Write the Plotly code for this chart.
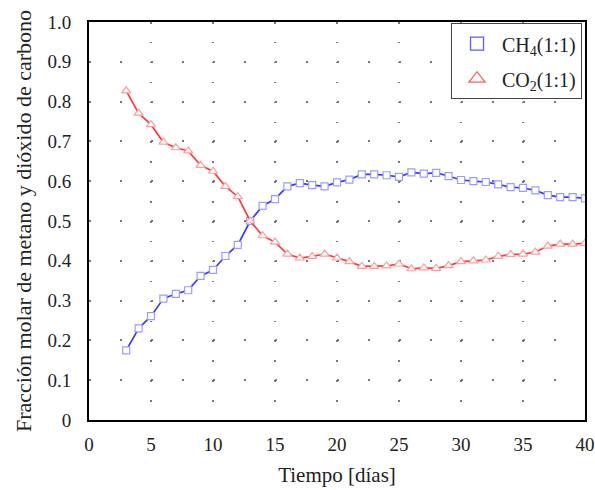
import plotly.graph_objects as go

days = list(range(3, 41))
ch4 = [0.175, 0.230, 0.261, 0.305, 0.317, 0.326, 0.362, 0.377, 0.412, 0.440,
       0.500, 0.538, 0.555, 0.587, 0.595, 0.590, 0.587, 0.597, 0.604, 0.617,
       0.617, 0.615, 0.611, 0.622, 0.619, 0.621, 0.613, 0.603, 0.600, 0.598,
       0.592, 0.585, 0.583, 0.577, 0.565, 0.560, 0.560, 0.557]
co2 = [0.827, 0.771, 0.742, 0.698, 0.684, 0.676, 0.640, 0.625, 0.587, 0.561,
       0.500, 0.463, 0.447, 0.417, 0.407, 0.411, 0.417, 0.407, 0.398, 0.386,
       0.386, 0.387, 0.392, 0.380, 0.382, 0.381, 0.388, 0.398, 0.400, 0.402,
       0.411, 0.416, 0.417, 0.422, 0.437, 0.442, 0.442, 0.444]
x_ticks = [0, 5, 10, 15, 20, 25, 30, 35, 40]
y_ticks = [0, 0.1, 0.2, 0.3, 0.4, 0.5, 0.6, 0.7, 0.8, 0.9, 1.0]
y_ticktext = ["0", "0.1", "0.2", "0.3", "0.4", "0.5", "0.6", "0.7", "0.8", "0.9", "1.0"]
names = ["CH<sub>4</sub>(1:1)", "CO<sub>2</sub>(1:1)"]

FONT = "Liberation Serif, DejaVu Serif, Times New Roman, serif"
TXT = "#222222"
W, H = 595, 490
ML, MR, MT, MB = 89, 10, 22, 70
PW, PH = W - ML - MR, H - MT - MB

fig = go.Figure()
fig.add_trace(go.Scatter(
    x=days, y=ch4, mode="lines+markers", showlegend=False,
    line=dict(color="#3a3aff", width=1.7),
    marker=dict(symbol="square", size=7, color="white",
                line=dict(color="#9c9cff", width=1.2)),
))
fig.add_trace(go.Scatter(
    x=days, y=co2, mode="lines+markers", showlegend=False,
    line=dict(color="#ff3a3a", width=1.7),
    marker=dict(symbol="triangle-up", size=8, color="white",
                line=dict(color="#ff9c9c", width=1.2)),
))
# legend proxies (marker only)
fig.add_trace(go.Scatter(
    x=[None], y=[None], mode="markers", name=names[0], legendgroup="a",
    marker=dict(symbol="square-open", size=13, color="#5c5cff",
                line=dict(width=1.3)),
))
fig.add_trace(go.Scatter(
    x=[None], y=[None], mode="markers", name=names[1], legendgroup="b",
    marker=dict(symbol="triangle-up-open", size=14, color="#ff5c5c",
                line=dict(width=1.3)),
))

tickfont = dict(family=FONT, size=19, color=TXT)

fig.update_layout(
    width=W, height=H,
    margin=dict(l=ML, r=MR, t=MT, b=MB, autoexpand=False),
    plot_bgcolor="white", paper_bgcolor="white",
    font=dict(family=FONT, size=18, color=TXT),
    showlegend=True,
    legend=dict(
        x=0.994, y=0.997, xanchor="right", yanchor="top",
        bgcolor="white", bordercolor="#444444", borderwidth=1,
        font=dict(family=FONT, size=20, color=TXT),
        tracegroupgap=6, itemwidth=40,
    ),
)
fig.update_xaxes(
    range=[0, 40], tickvals=x_ticks, showline=True, mirror=True,
    linecolor="black", linewidth=2, ticks="", zeroline=False,
    showgrid=True, gridcolor="#777777", gridwidth=1.5,
    griddash="1.5px,%.2fpx" % (PH / 20 - 1.5), automargin=False,
    tickfont=tickfont, ticklabelstandoff=6,
    title_text="Tiempo [días]", title_font=dict(family=FONT, size=21, color=TXT),
    title_standoff=14,
)
fig.update_yaxes(
    range=[0, 1.0], tickvals=y_ticks, ticktext=y_ticktext, showline=True,
    mirror=True, linecolor="black", linewidth=2, ticks="", zeroline=False,
    showgrid=True, gridcolor="#777777", gridwidth=1.5,
    griddash="1.5px,%.2fpx" % (PW / 16 - 1.5), automargin=False,
    tickfont=tickfont, ticklabelstandoff=12,
    title_text="Fracción molar de metano y dióxido de carbono",
    title_font=dict(family=FONT, size=22, color=TXT), title_standoff=10,
)
fig.write_html("out.html")
